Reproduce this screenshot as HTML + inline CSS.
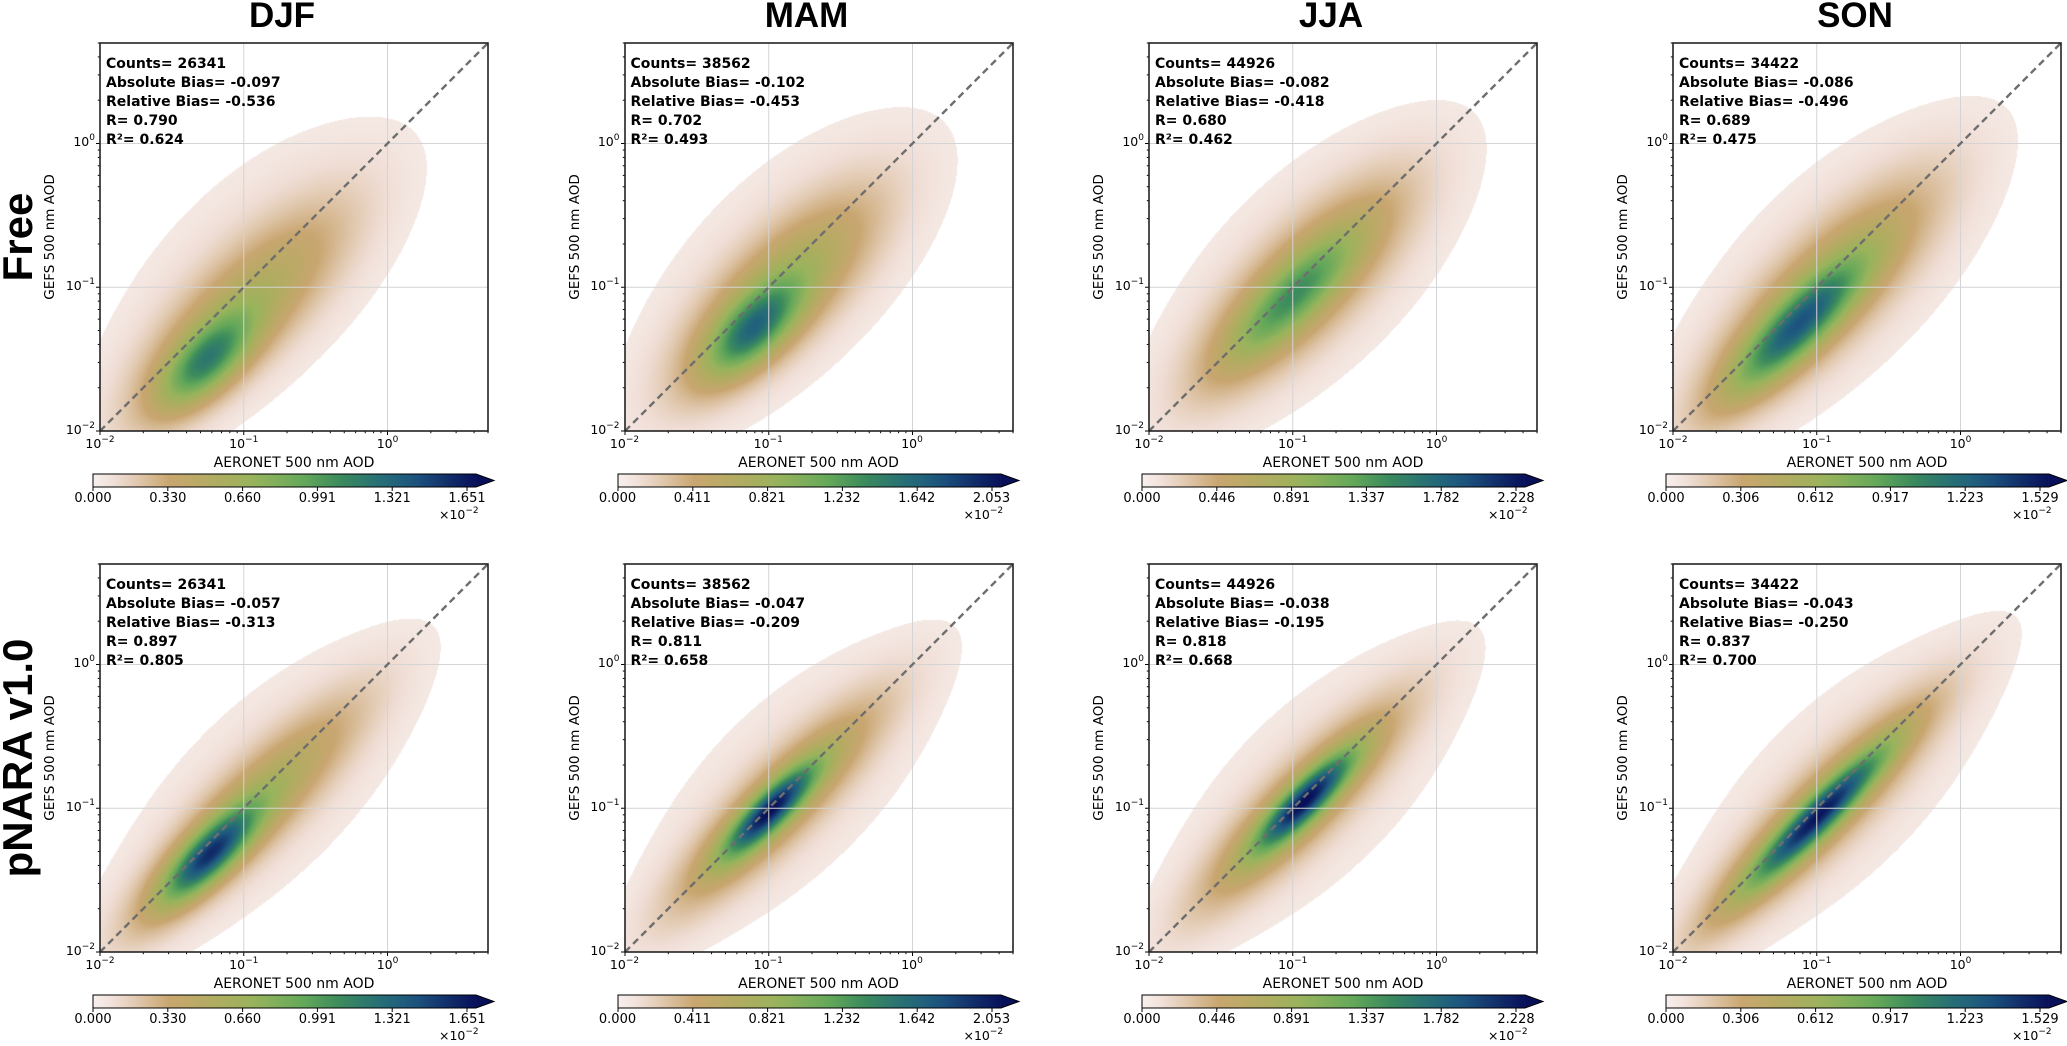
<!DOCTYPE html>
<html><head><meta charset="utf-8">
<style>
html,body{margin:0;padding:0;background:#fff;}
#fig{position:relative;width:2067px;height:1046px;overflow:hidden;background:#fff;font-family:"DejaVu Sans","Liberation Sans",sans-serif;color:#000;}
.abs{position:absolute;}
.title{font-family:"Liberation Sans",sans-serif;font-weight:bold;font-size:35px;transform:translateX(-50%);top:-4px;white-space:nowrap;}
.rowlab{font-family:"Liberation Sans",sans-serif;font-weight:bold;font-size:42px;white-space:nowrap;transform:translate(-50%,-50%) rotate(-90deg);}
.ylab{font-size:13.5px;white-space:nowrap;transform:translate(-50%,-50%) rotate(-90deg);}
.xlab{font-size:14px;white-space:nowrap;transform:translate(-50%,-50%);}
.tick{font-size:12.5px;white-space:nowrap;}
.tick sup{font-size:9px;vertical-align:6px;line-height:0;}
.stats{font-weight:bold;font-size:14px;line-height:19px;white-space:nowrap;}
.cbl{font-size:13px;white-space:nowrap;transform:translateX(-50%);}
canvas{position:absolute;}
svg{position:absolute;left:0;top:0;overflow:visible;}
</style></head>
<body>
<div id="fig"></div>
<script>
// ---- data ----
const seasons = ["DJF","MAM","JJA","SON"];
const rowNames = ["Free","pNARA v1.0"];
const counts = [[26341,38562,44926,34422],[26341,38562,44926,34422]];
const absBias = [["-0.097","-0.102","-0.082","-0.086"],["-0.057","-0.047","-0.038","-0.043"]];
const relBias = [["-0.536","-0.453","-0.418","-0.496"],["-0.313","-0.209","-0.195","-0.250"]];
const rVals = [["0.790","0.702","0.680","0.689"],["0.897","0.811","0.818","0.837"]];
const r2Vals = [["0.624","0.493","0.462","0.475"],["0.805","0.658","0.668","0.700"]];
const cbTicks = [
  ["0.000","0.330","0.660","0.991","1.321","1.651"],
  ["0.000","0.411","0.821","1.232","1.642","2.053"],
  ["0.000","0.446","0.891","1.337","1.782","2.228"],
  ["0.000","0.306","0.612","0.917","1.223","1.529"]];
const xTickExp = [-2,-1,0];
const yTickExp = [-2,-1,0];
// density components per panel: [log10 x, log10 y, sigma along 1:1, sigma across, peak fraction]
const densityFree = [
  [[-1.27,-1.52,0.28,0.13,0.44],[-1.05,-1.20,0.65,0.22,0.28],[-0.90,-0.90,0.90,0.45,0.07]],
  [[-1.12,-1.30,0.28,0.13,0.46],[-0.95,-1.05,0.60,0.22,0.32],[-0.85,-0.85,0.90,0.45,0.07]],
  [[-1.02,-1.08,0.40,0.12,0.28],[-0.95,-1.00,0.65,0.22,0.30],[-0.85,-0.87,0.90,0.45,0.07]],
  [[-1.15,-1.28,0.42,0.12,0.50],[-1.00,-1.08,0.72,0.22,0.30],[-0.85,-0.87,0.92,0.45,0.07]]];
const densityPnara = [
  [[-1.25,-1.33,0.30,0.10,0.62],[-1.00,-1.05,0.72,0.17,0.30],[-0.85,-0.87,0.92,0.40,0.07]],
  [[-1.00,-1.02,0.30,0.08,0.64],[-0.95,-0.98,0.68,0.16,0.30],[-0.85,-0.85,0.90,0.40,0.07]],
  [[-0.92,-0.95,0.32,0.08,0.64],[-0.95,-0.98,0.68,0.16,0.30],[-0.85,-0.87,0.90,0.40,0.07]],
  [[-1.00,-1.06,0.46,0.08,0.62],[-1.00,-1.05,0.78,0.16,0.30],[-0.85,-0.87,0.92,0.40,0.07]]];
const densityRows = [densityFree, densityPnara];

// ---- layout ----
const colLeft = [100, 624.5, 1149, 1673];
const rowTop = [43, 564];
const W = 388, H = 388;
const LMIN = -2, LMAX = Math.log10(5);
const fig = document.getElementById('fig');
function sx(l){ return (l - LMIN) / (LMAX - LMIN) * W; }
function sy(l){ return H - (l - LMIN) / (LMAX - LMIN) * H; }

const cmapStops = [
  [0.00,[248,240,238]],[0.06,[240,222,214]],[0.20,[201,166,112]],[0.32,[176,172,96]],
  [0.42,[152,180,92]],[0.55,[100,168,90]],[0.64,[60,140,92]],[0.75,[38,110,118]],
  [0.83,[30,88,128]],[1.00,[8,16,90]]];
function cmap(t){
  t=Math.max(0,Math.min(1,t));
  for(let i=1;i<cmapStops.length;i++){
    if(t<=cmapStops[i][0]){
      const a=cmapStops[i-1],b=cmapStops[i],f=(t-a[0])/(b[0]-a[0]);
      return [0,1,2].map(k=>Math.round(a[1][k]+(b[1][k]-a[1][k])*f));
    }
  }
  return cmapStops[cmapStops.length-1][1];
}
function cmapCss(t){ const c=cmap(t); return `rgb(${c[0]},${c[1]},${c[2]})`; }
const NS='http://www.w3.org/2000/svg';
function sup(e){ return '10<sup>'+(e<0?'\u2212'+(-e):e)+'</sup>'; }

seasons.forEach((s,c)=>{
  const t=document.createElement('div');
  t.className='abs title';
  t.style.left=(colLeft[c]+W/2-12)+'px';
  t.textContent=s;
  
  
  fig.appendChild(t);
});
rowNames.forEach((n,r)=>{
  const d=document.createElement('div');
  d.className='abs rowlab';
  d.style.left='18px'; d.style.top=(rowTop[r]+H/2)+'px';
  d.textContent=n;
  
  
  fig.appendChild(d);
});

for(let r=0;r<2;r++) for(let c=0;c<4;c++){
  const L=colLeft[c], T=rowTop[r];
  const comps=densityRows[r][c];
  const cv=document.createElement('canvas');
  cv.width=W; cv.height=H;
  cv.style.left=L+'px'; cv.style.top=T+'px';
  
  
  fig.appendChild(cv);
  const ctx=cv.getContext('2d');
  const img=ctx.createImageData(W,H);
  const s2=Math.SQRT1_2;
  for(let py=0;py<H;py++){
    const ly=LMIN+(H-py)/H*(LMAX-LMIN);
    for(let px=0;px<W;px++){
      const lx=LMIN+px/W*(LMAX-LMIN);
      let d=0;
      for(const k of comps){
        const dx=lx-k[0], dy=ly-k[1];
        const a=(dx+dy)*s2, b=(dy-dx)*s2;
        d+=k[4]*Math.exp(-0.5*(a*a/(k[2]*k[2])+b*b/(k[3]*k[3])));
      }
      const i=(py*W+px)*4;
      if(d<0.025){img.data[i]=255;img.data[i+1]=255;img.data[i+2]=255;}
      else{const col=cmap(d);img.data[i]=col[0];img.data[i+1]=col[1];img.data[i+2]=col[2];}
      img.data[i+3]=255;
    }
  }
  ctx.putImageData(img,0,0);

  const svg=document.createElementNS(NS,'svg');
  svg.setAttribute('width',W); svg.setAttribute('height',H);
  svg.style.left=L+'px'; svg.style.top=T+'px';
  
  
  fig.appendChild(svg);
  function line(x1,y1,x2,y2,st,w,name,dash){
    const e=document.createElementNS(NS,'line');
    e.setAttribute('x1',x1);e.setAttribute('y1',y1);e.setAttribute('x2',x2);e.setAttribute('y2',y2);
    e.setAttribute('stroke',st);e.setAttribute('stroke-width',w);
    if(dash) e.setAttribute('stroke-dasharray',dash);
    
    
    svg.appendChild(e); return e;
  }
  [-1,0].forEach(e=>{
    line(sx(e),0,sx(e),H,'#d4d4d4',1,'grid-line-x');
    line(0,sy(e),W,sy(e),'#d4d4d4',1,'grid-line-y');
  });
  line(sx(-2),sy(-2),sx(LMAX),sy(LMAX),'#6e6e6e',2.4,'one-to-one-line','7,4.5');
  for(let e=-2;e<=0;e++){
    for(let m=1;m<10;m++){
      const l=e+Math.log10(m); if(l>LMAX) break;
      const len=m===1?4:2.2;
      line(sx(l),H,sx(l),H+len,'#000',1,'x-tick');
      line(0,sy(l),-len,sy(l),'#000',1,'y-tick');
    }
  }
  const fr=document.createElementNS(NS,'rect');
  fr.setAttribute('x',0);fr.setAttribute('y',0);fr.setAttribute('width',W);fr.setAttribute('height',H);
  fr.setAttribute('fill','none');fr.setAttribute('stroke','#222');fr.setAttribute('stroke-width',1.6);
  
  
  svg.appendChild(fr);

  xTickExp.forEach(e=>{
    const d=document.createElement('div');
    d.className='abs tick';
    d.innerHTML=sup(e);
    d.style.left=(L+sx(e))+'px'; d.style.top=(T+H+5)+'px';
    d.style.transform='translateX(-50%)';
    
    
    fig.appendChild(d);
  });
  yTickExp.forEach(e=>{
    const d=document.createElement('div');
    d.className='abs tick';
    d.innerHTML=sup(e);
    d.style.right=(2067-L+5)+'px'; d.style.top=(T+sy(e)-9)+'px';
    
    
    fig.appendChild(d);
  });
  const yl=document.createElement('div');
  yl.className='abs ylab'; yl.textContent='GEFS 500 nm AOD';
  yl.style.left=(L-50)+'px'; yl.style.top=(T+H/2)+'px';
  
  
  fig.appendChild(yl);
  const xl=document.createElement('div');
  xl.className='abs xlab'; xl.textContent='AERONET 500 nm AOD';
  xl.style.left=(L+W/2)+'px'; xl.style.top=(T+H+32)+'px';
  
  
  fig.appendChild(xl);
  const st=document.createElement('div');
  st.className='abs stats';
  st.style.left=(L+6)+'px'; st.style.top=(T+12)+'px';
  st.innerHTML='Counts= '+counts[r][c]+'<br>Absolute Bias= '+absBias[r][c]+'<br>Relative Bias= '+relBias[r][c]+'<br>R= '+rVals[r][c]+'<br>R\u00b2= '+r2Vals[r][c];
  
  
  fig.appendChild(st);

  const cbL=L-7, cbT=T+H+43, cbH=13, step=74.8, cbW=step*5.12;
  const ticks=cbTicks[c];
  const cs=document.createElementNS(NS,'svg');
  cs.setAttribute('width',cbW+20); cs.setAttribute('height',cbH+6);
  cs.style.left=cbL+'px'; cs.style.top=cbT+'px';
  
  
  const gid='g'+r+c;
  let stops='';
  for(let i=0;i<=20;i++){ stops+=`<stop offset="${i/20}" stop-color="${cmapCss(i/20)}"/>`; }
  cs.innerHTML=`<defs><linearGradient id="${gid}">${stops}</linearGradient></defs>
   <rect x="0" y="0" width="${cbW}" height="${cbH}" fill="url(#${gid})"/>
   <polygon points="${cbW},0 ${cbW+18},${cbH/2} ${cbW},${cbH}" fill="${cmapCss(1)}"/>
   <polygon points="0,0 ${cbW},0 ${cbW+18},${cbH/2} ${cbW},${cbH} 0,${cbH}" fill="none" stroke="#000" stroke-width="1"/>`;
  ticks.forEach((tv,i)=>{
    const e=document.createElementNS(NS,'line');
    e.setAttribute('x1',i*step);e.setAttribute('x2',i*step);e.setAttribute('y1',cbH);e.setAttribute('y2',cbH+4);
    e.setAttribute('stroke','#000');
    
    
    cs.appendChild(e);
  });
  fig.appendChild(cs);
  ticks.forEach((tv,i)=>{
    const d=document.createElement('div');
    d.className='abs cbl'; d.textContent=tv;
    d.style.left=(cbL+i*step)+'px'; d.style.top=(cbT+cbH+4)+'px';
    
    
    fig.appendChild(d);
  });
  const ex=document.createElement('div');
  ex.className='abs tick';
  ex.innerHTML='\u00d710<sup>\u22122</sup>';
  ex.style.left=(cbL+5*step-28)+'px'; ex.style.top=(cbT+cbH+20)+'px';
  
  
  fig.appendChild(ex);
}
</script>
</body></html>
